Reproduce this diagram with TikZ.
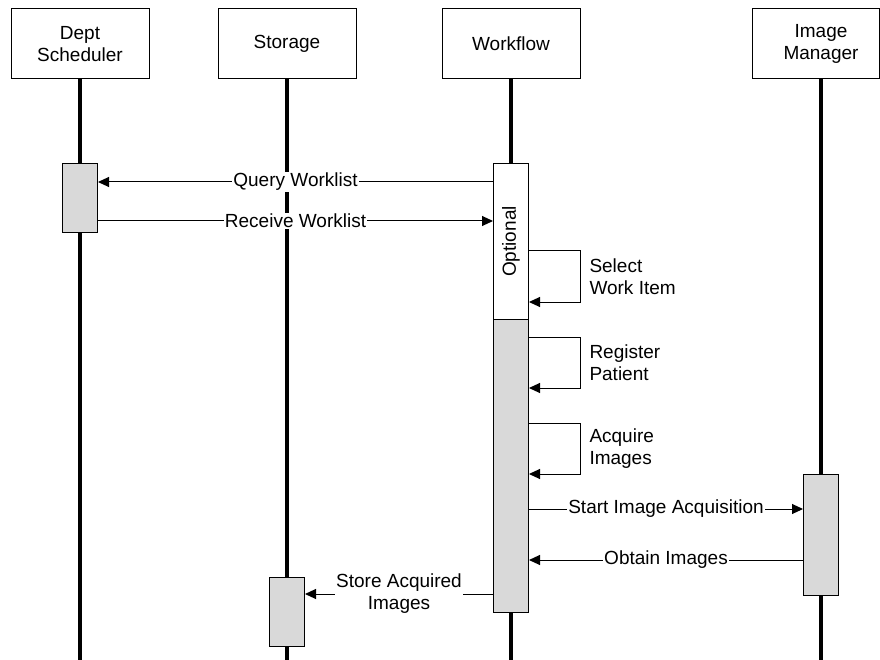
\documentclass[tikz,border=0pt]{standalone}
\usepackage{fontspec}
\setmainfont{Liberation Sans}
\usetikzlibrary{arrows.meta}
\definecolor{barfill}{HTML}{D9D9D9}
\tikzset{
  actor/.style={draw, line width=1pt, minimum width=138pt, minimum height=70pt, align=center},
  life/.style={line width=4pt},
  bar/.style={draw, line width=1pt, fill=barfill, minimum width=35pt},
  msg/.style={line width=1pt, -{Triangle[length=11pt,width=10pt]}},
  lbl/.style={fill=white, inner sep=1pt},
  selflbl/.style={right, align=left, inner sep=9pt}
}
\begin{document}
\begin{tikzpicture}[x=1pt,y=-1pt,font=\fontsize{19}{22}\selectfont]
\useasboundingbox (0,0) rectangle (880,660);
\coordinate (bottom) at (0,660);

% actors and lifelines
\node[actor] (sched) at (80,44) {Dept\\Scheduler};
\node[actor] (store) at (287,44) {Storage};
\node[actor] (wf) at (511,44) {Workflow};
\node[actor, minimum width=127pt] (imgr) at (815.5,44) {};
\node[align=center] (imgrtxt) at (821,44) {Image\\Manager};

\draw[life] (sched.south) -- (sched.south |- bottom);
\draw[life] (store.south) -- (store.south |- bottom);
\draw[life] (wf.south) -- (wf.south |- bottom);
\draw[life] (imgrtxt |- imgr.south) -- (imgrtxt |- bottom);

% activation bars
\node[bar, minimum height=69pt] (schedbar) at (80,198.5) {};
\node[bar, fill=white, minimum height=155pt] (wfopt) at (511,241.5) {};
\node[rotate=90] (optlbl) at (wfopt) {Optional};
\node[bar, minimum height=293pt] (wfbar) at (511,465.5) {};
\node[bar, minimum height=121pt] (imgrbar) at (821,534.5) {};
\node[bar, minimum height=69pt] (storebar) at (287,611.5) {};

% messages
\coordinate (query) at (0,182);
\coordinate (receive) at (0,221);
\coordinate (select) at (0,251);
\coordinate (register) at (0,337);
\coordinate (acquire) at (0,423);
\coordinate (start) at (0,509);
\coordinate (obtain) at (0,560);
\coordinate (storeimg) at (0,594);

\draw[msg] (wfopt.west |- query) -- node[lbl] {Query Worklist} (schedbar.east |- query);
\draw[msg] (schedbar.east |- receive) -- node[lbl] {Receive Worklist} (wfopt.west |- receive);
\draw[msg] (wfopt.east |- select) -- ++(51,0) -- node[selflbl] {Select\\Work Item} ++(0,51) -- ++(-51,0);
\draw[msg] (wfbar.east |- register) -- ++(51,0) -- node[selflbl] {Register\\Patient} ++(0,51) -- ++(-51,0);
\draw[msg] (wfbar.east |- acquire) -- ++(51,0) -- node[selflbl] {Acquire\\Images} ++(0,51) -- ++(-51,0);
\draw[msg] (wfbar.east |- start) -- node[lbl] {Start Image Acquisition} (imgrbar.west |- start);
\draw[msg] (imgrbar.west |- obtain) -- node[lbl] {Obtain Images} (wfbar.east |- obtain);
\draw[msg] (wfbar.west |- storeimg) -- node[lbl, align=center] {Store Acquired\\Images} (storebar.east |- storeimg);
\end{tikzpicture}
\end{document}
